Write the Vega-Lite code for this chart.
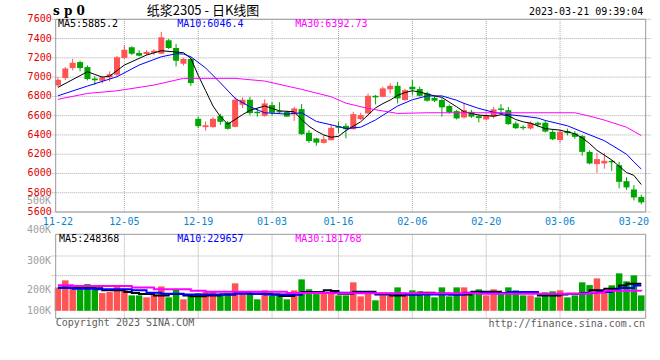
{
  "$schema": "https://vega.github.io/schema/vega-lite/v6.json",
  "autosize": {"type": "none"},
  "width": 600,
  "height": 299,
  "padding": {"left": 50.7, "top": 19.3, "right": 9.3, "bottom": 41.7},
  "background": "white",
  "config": {
    "view": {"stroke": null},
    "font": "DejaVu Sans Mono",
    "text": {"font": "DejaVu Sans Mono", "fontSize": 10}
  },
  "datasets": {
    "k": [
      {"i":0,"d":"11-22","o":6914,"c":6972,"h":7000,"l":6900,"v":212000},
      {"i":1,"d":"11-23","o":6990,"c":7090,"h":7105,"l":6970,"v":278000},
      {"i":2,"d":"11-24","o":7094,"c":7149,"h":7190,"l":7070,"v":223000},
      {"i":3,"d":"11-25","o":7156,"c":7094,"h":7170,"l":7060,"v":196000},
      {"i":4,"d":"11-28","o":7104,"c":6980,"h":7122,"l":6966,"v":244000},
      {"i":5,"d":"11-29","o":6985,"c":6968,"h":7010,"l":6920,"v":196000},
      {"i":6,"d":"11-30","o":6962,"c":6997,"h":7015,"l":6935,"v":162000},
      {"i":7,"d":"12-01","o":6997,"c":7030,"h":7060,"l":6955,"v":171000},
      {"i":8,"d":"12-02","o":7024,"c":7205,"h":7220,"l":7010,"v":233000},
      {"i":9,"d":"12-05","o":7198,"c":7284,"h":7330,"l":7190,"v":202000},
      {"i":10,"d":"12-06","o":7310,"c":7243,"h":7320,"l":7230,"v":141000},
      {"i":11,"d":"12-07","o":7250,"c":7222,"h":7280,"l":7215,"v":141000},
      {"i":12,"d":"12-08","o":7240,"c":7262,"h":7280,"l":7225,"v":123000},
      {"i":13,"d":"12-09","o":7253,"c":7274,"h":7290,"l":7230,"v":148000},
      {"i":14,"d":"12-12","o":7243,"c":7413,"h":7470,"l":7240,"v":223000},
      {"i":15,"d":"12-13","o":7382,"c":7302,"h":7395,"l":7290,"v":123000},
      {"i":16,"d":"12-14","o":7302,"c":7170,"h":7345,"l":7110,"v":190000},
      {"i":17,"d":"12-15","o":7139,"c":7188,"h":7200,"l":7120,"v":105000},
      {"i":18,"d":"12-16","o":7188,"c":6938,"h":7205,"l":6910,"v":153000},
      {"i":19,"d":"12-19","o":6567,"c":6491,"h":6590,"l":6470,"v":160000},
      {"i":20,"d":"12-20","o":6481,"c":6500,"h":6540,"l":6445,"v":171000},
      {"i":21,"d":"12-21","o":6481,"c":6567,"h":6585,"l":6475,"v":178000},
      {"i":22,"d":"12-22","o":6595,"c":6536,"h":6620,"l":6505,"v":150000},
      {"i":23,"d":"12-23","o":6530,"c":6463,"h":6545,"l":6455,"v":160000},
      {"i":24,"d":"12-26","o":6484,"c":6765,"h":6795,"l":6480,"v":251000},
      {"i":25,"d":"12-27","o":6713,"c":6765,"h":6790,"l":6680,"v":162000},
      {"i":26,"d":"12-28","o":6765,"c":6626,"h":6795,"l":6605,"v":178000},
      {"i":27,"d":"12-29","o":6640,"c":6625,"h":6675,"l":6590,"v":105000},
      {"i":28,"d":"12-30","o":6598,"c":6727,"h":6770,"l":6590,"v":187000},
      {"i":29,"d":"01-03","o":6710,"c":6630,"h":6740,"l":6600,"v":141000},
      {"i":30,"d":"01-04","o":6647,"c":6634,"h":6740,"l":6620,"v":150000},
      {"i":31,"d":"01-05","o":6640,"c":6590,"h":6650,"l":6585,"v":105000},
      {"i":32,"d":"01-06","o":6613,"c":6675,"h":6692,"l":6546,"v":187000},
      {"i":33,"d":"01-09","o":6668,"c":6408,"h":6720,"l":6400,"v":287000},
      {"i":34,"d":"01-10","o":6422,"c":6336,"h":6450,"l":6318,"v":196000},
      {"i":35,"d":"01-11","o":6363,"c":6320,"h":6370,"l":6287,"v":153000},
      {"i":36,"d":"01-12","o":6318,"c":6356,"h":6400,"l":6310,"v":160000},
      {"i":37,"d":"01-13","o":6346,"c":6474,"h":6505,"l":6340,"v":162000},
      {"i":38,"d":"01-16","o":6491,"c":6474,"h":6536,"l":6420,"v":141000},
      {"i":39,"d":"01-17","o":6494,"c":6460,"h":6520,"l":6365,"v":141000},
      {"i":40,"d":"01-18","o":6460,"c":6616,"h":6640,"l":6455,"v":260000},
      {"i":41,"d":"01-19","o":6564,"c":6606,"h":6630,"l":6555,"v":132000},
      {"i":42,"d":"01-20","o":6623,"c":6806,"h":6830,"l":6615,"v":162000},
      {"i":43,"d":"01-30","o":6806,"c":6790,"h":6815,"l":6717,"v":96000},
      {"i":44,"d":"01-31","o":6796,"c":6883,"h":6900,"l":6790,"v":141000},
      {"i":45,"d":"02-01","o":6873,"c":6910,"h":6935,"l":6830,"v":141000},
      {"i":46,"d":"02-02","o":6910,"c":6779,"h":6950,"l":6727,"v":214000},
      {"i":47,"d":"02-03","o":6762,"c":6865,"h":6880,"l":6755,"v":141000},
      {"i":48,"d":"02-06","o":6900,"c":6873,"h":6970,"l":6815,"v":187000},
      {"i":49,"d":"02-07","o":6876,"c":6806,"h":6900,"l":6800,"v":178000},
      {"i":50,"d":"02-08","o":6831,"c":6755,"h":6850,"l":6745,"v":157000},
      {"i":51,"d":"02-09","o":6785,"c":6755,"h":6810,"l":6740,"v":123000},
      {"i":52,"d":"02-10","o":6762,"c":6686,"h":6780,"l":6590,"v":214000},
      {"i":53,"d":"02-13","o":6700,"c":6635,"h":6715,"l":6620,"v":132000},
      {"i":54,"d":"02-14","o":6647,"c":6571,"h":6660,"l":6560,"v":214000},
      {"i":55,"d":"02-15","o":6581,"c":6657,"h":6733,"l":6571,"v":214000},
      {"i":56,"d":"02-16","o":6640,"c":6590,"h":6660,"l":6575,"v":162000},
      {"i":57,"d":"02-17","o":6595,"c":6575,"h":6615,"l":6530,"v":196000},
      {"i":58,"d":"02-20","o":6561,"c":6606,"h":6620,"l":6550,"v":141000},
      {"i":59,"d":"02-21","o":6588,"c":6665,"h":6692,"l":6571,"v":196000},
      {"i":60,"d":"02-22","o":6675,"c":6660,"h":6720,"l":6623,"v":162000},
      {"i":61,"d":"02-23","o":6657,"c":6512,"h":6690,"l":6505,"v":214000},
      {"i":62,"d":"02-24","o":6519,"c":6470,"h":6540,"l":6460,"v":187000},
      {"i":63,"d":"02-27","o":6484,"c":6470,"h":6500,"l":6450,"v":141000},
      {"i":64,"d":"02-28","o":6467,"c":6526,"h":6540,"l":6455,"v":141000},
      {"i":65,"d":"03-01","o":6526,"c":6505,"h":6540,"l":6480,"v":123000},
      {"i":66,"d":"03-02","o":6526,"c":6435,"h":6545,"l":6425,"v":169000},
      {"i":67,"d":"03-03","o":6432,"c":6355,"h":6450,"l":6345,"v":178000},
      {"i":68,"d":"03-06","o":6346,"c":6432,"h":6450,"l":6320,"v":187000},
      {"i":69,"d":"03-07","o":6440,"c":6418,"h":6465,"l":6395,"v":123000},
      {"i":70,"d":"03-08","o":6415,"c":6380,"h":6440,"l":6360,"v":141000},
      {"i":71,"d":"03-09","o":6387,"c":6224,"h":6400,"l":6185,"v":260000},
      {"i":72,"d":"03-10","o":6224,"c":6104,"h":6240,"l":6095,"v":235000},
      {"i":73,"d":"03-13","o":6097,"c":6149,"h":6214,"l":6006,"v":296000},
      {"i":74,"d":"03-14","o":6104,"c":6131,"h":6214,"l":6050,"v":178000},
      {"i":75,"d":"03-15","o":6131,"c":6115,"h":6140,"l":6027,"v":233000},
      {"i":76,"d":"03-16","o":6086,"c":5913,"h":6120,"l":5845,"v":342000},
      {"i":77,"d":"03-17","o":5920,"c":5855,"h":5960,"l":5830,"v":269000},
      {"i":78,"d":"03-20","o":5834,"c":5751,"h":5880,"l":5720,"v":324000},
      {"i":79,"d":"03-21","o":5757,"c":5700,"h":5780,"l":5680,"v":141000}
    ],
    "pticks": [
      {"p":5600},{"p":5800},{"p":6000},{"p":6200},{"p":6400},{"p":6600},{"p":6800},{"p":7000},{"p":7200},{"p":7400},{"p":7600}
    ],
    "ma": [
      {"s":"MA5","i":0,"p":6893},{"s":"MA5","i":4,"p":7056},{"s":"MA5","i":6,"p":7000},{"s":"MA5","i":7,"p":7010},{"s":"MA5","i":9,"p":7125},{"s":"MA5","i":12,"p":7229},{"s":"MA5","i":14,"p":7274},{"s":"MA5","i":17,"p":7253},{"s":"MA5","i":18,"p":7195},{"s":"MA5","i":19,"p":7018},{"s":"MA5","i":20,"p":6860},{"s":"MA5","i":21,"p":6700},{"s":"MA5","i":22,"p":6590},{"s":"MA5","i":23,"p":6512},{"s":"MA5","i":24,"p":6560},{"s":"MA5","i":25,"p":6610},{"s":"MA5","i":26,"p":6655},{"s":"MA5","i":28,"p":6700},{"s":"MA5","i":29,"p":6675},{"s":"MA5","i":30,"p":6650},{"s":"MA5","i":32,"p":6640},{"s":"MA5","i":33,"p":6560},{"s":"MA5","i":34,"p":6490},{"s":"MA5","i":35,"p":6440},{"s":"MA5","i":36,"p":6400},{"s":"MA5","i":37,"p":6376},{"s":"MA5","i":38,"p":6385},{"s":"MA5","i":39,"p":6445},{"s":"MA5","i":40,"p":6490},{"s":"MA5","i":41,"p":6536},{"s":"MA5","i":42,"p":6606},{"s":"MA5","i":43,"p":6680},{"s":"MA5","i":44,"p":6725},{"s":"MA5","i":45,"p":6762},{"s":"MA5","i":46,"p":6810},{"s":"MA5","i":47,"p":6840},{"s":"MA5","i":48,"p":6858},{"s":"MA5","i":49,"p":6845},{"s":"MA5","i":51,"p":6805},{"s":"MA5","i":52,"p":6790},{"s":"MA5","i":53,"p":6740},{"s":"MA5","i":54,"p":6692},{"s":"MA5","i":55,"p":6640},{"s":"MA5","i":57,"p":6606},{"s":"MA5","i":59,"p":6595},{"s":"MA5","i":60,"p":6610},{"s":"MA5","i":61,"p":6600},{"s":"MA5","i":62,"p":6560},{"s":"MA5","i":63,"p":6536},{"s":"MA5","i":64,"p":6522},{"s":"MA5","i":66,"p":6465},{"s":"MA5","i":68,"p":6450},{"s":"MA5","i":70,"p":6412},{"s":"MA5","i":71,"p":6370},{"s":"MA5","i":72,"p":6310},{"s":"MA5","i":73,"p":6240},{"s":"MA5","i":74,"p":6190},{"s":"MA5","i":75,"p":6140},{"s":"MA5","i":76,"p":6075},{"s":"MA5","i":77,"p":6010},{"s":"MA5","i":78,"p":5980},{"s":"MA5","i":79,"p":5885},
      {"s":"MA10","i":0,"p":6806},{"s":"MA10","i":4,"p":6907},{"s":"MA10","i":8,"p":7004},{"s":"MA10","i":11,"p":7125},{"s":"MA10","i":14,"p":7211},{"s":"MA10","i":16,"p":7242},{"s":"MA10","i":17,"p":7240},{"s":"MA10","i":18,"p":7211},{"s":"MA10","i":20,"p":7095},{"s":"MA10","i":22,"p":6941},{"s":"MA10","i":24,"p":6779},{"s":"MA10","i":26,"p":6692},{"s":"MA10","i":28,"p":6630},{"s":"MA10","i":31,"p":6616},{"s":"MA10","i":33,"p":6630},{"s":"MA10","i":35,"p":6540},{"s":"MA10","i":37,"p":6505},{"s":"MA10","i":39,"p":6467},{"s":"MA10","i":41,"p":6480},{"s":"MA10","i":43,"p":6555},{"s":"MA10","i":46,"p":6700},{"s":"MA10","i":48,"p":6765},{"s":"MA10","i":50,"p":6805},{"s":"MA10","i":52,"p":6805},{"s":"MA10","i":54,"p":6760},{"s":"MA10","i":55,"p":6727},{"s":"MA10","i":57,"p":6675},{"s":"MA10","i":59,"p":6635},{"s":"MA10","i":61,"p":6610},{"s":"MA10","i":63,"p":6595},{"s":"MA10","i":65,"p":6575},{"s":"MA10","i":66,"p":6550},{"s":"MA10","i":69,"p":6495},{"s":"MA10","i":71,"p":6432},{"s":"MA10","i":74,"p":6340},{"s":"MA10","i":77,"p":6200},{"s":"MA10","i":78,"p":6120},{"s":"MA10","i":79,"p":6046},
      {"s":"MA30","i":0,"p":6769},{"s":"MA30","i":4,"p":6831},{"s":"MA30","i":8,"p":6858},{"s":"MA30","i":13,"p":6917},{"s":"MA30","i":17,"p":6987},{"s":"MA30","i":24,"p":6987},{"s":"MA30","i":28,"p":6959},{"s":"MA30","i":33,"p":6873},{"s":"MA30","i":37,"p":6796},{"s":"MA30","i":39,"p":6730},{"s":"MA30","i":42,"p":6675},{"s":"MA30","i":46,"p":6623},{"s":"MA30","i":50,"p":6630},{"s":"MA30","i":60,"p":6630},{"s":"MA30","i":70,"p":6630},{"s":"MA30","i":72,"p":6595},{"s":"MA30","i":74,"p":6554},{"s":"MA30","i":77,"p":6480},{"s":"MA30","i":79,"p":6393}
    ],
    "vma": [
      {"s":"MA5","i":0,"v":213000},{"s":"MA5","i":5,"v":205000},{"s":"MA5","i":6,"v":187000},{"s":"MA5","i":9,"v":171000},{"s":"MA5","i":10,"v":162000},{"s":"MA5","i":11,"v":153000},{"s":"MA5","i":13,"v":141000},{"s":"MA5","i":15,"v":153000},{"s":"MA5","i":17,"v":141000},{"s":"MA5","i":18,"v":132000},{"s":"MA5","i":20,"v":141000},{"s":"MA5","i":22,"v":150000},{"s":"MA5","i":24,"v":162000},{"s":"MA5","i":26,"v":157000},{"s":"MA5","i":29,"v":150000},{"s":"MA5","i":30,"v":136000},{"s":"MA5","i":32,"v":150000},{"s":"MA5","i":33,"v":171000},{"s":"MA5","i":36,"v":187000},{"s":"MA5","i":37,"v":181000},{"s":"MA5","i":38,"v":157000},{"s":"MA5","i":40,"v":175000},{"s":"MA5","i":43,"v":150000},{"s":"MA5","i":45,"v":139000},{"s":"MA5","i":47,"v":150000},{"s":"MA5","i":49,"v":166000},{"s":"MA5","i":51,"v":157000},{"s":"MA5","i":53,"v":150000},{"s":"MA5","i":56,"v":175000},{"s":"MA5","i":60,"v":162000},{"s":"MA5","i":61,"v":171000},{"s":"MA5","i":63,"v":162000},{"s":"MA5","i":65,"v":141000},{"s":"MA5","i":68,"v":150000},{"s":"MA5","i":69,"v":157000},{"s":"MA5","i":71,"v":162000},{"s":"MA5","i":72,"v":187000},{"s":"MA5","i":74,"v":202000},{"s":"MA5","i":76,"v":232000},{"s":"MA5","i":77,"v":248000},{"s":"MA5","i":79,"v":248000},
      {"s":"MA10","i":0,"v":208000},{"s":"MA10","i":2,"v":202000},{"s":"MA10","i":5,"v":196000},{"s":"MA10","i":10,"v":187000},{"s":"MA10","i":12,"v":166000},{"s":"MA10","i":14,"v":157000},{"s":"MA10","i":17,"v":148000},{"s":"MA10","i":24,"v":157000},{"s":"MA10","i":28,"v":150000},{"s":"MA10","i":33,"v":166000},{"s":"MA10","i":43,"v":157000},{"s":"MA10","i":47,"v":150000},{"s":"MA10","i":55,"v":166000},{"s":"MA10","i":58,"v":162000},{"s":"MA10","i":61,"v":171000},{"s":"MA10","i":65,"v":153000},{"s":"MA10","i":71,"v":162000},{"s":"MA10","i":73,"v":171000},{"s":"MA10","i":75,"v":187000},{"s":"MA10","i":76,"v":208000},{"s":"MA10","i":78,"v":230000},{"s":"MA10","i":79,"v":230000},
      {"s":"MA30","i":0,"v":233000},{"s":"MA30","i":2,"v":226000},{"s":"MA30","i":10,"v":212000},{"s":"MA30","i":13,"v":196000},{"s":"MA30","i":18,"v":184000},{"s":"MA30","i":20,"v":175000},{"s":"MA30","i":31,"v":162000},{"s":"MA30","i":37,"v":160000},{"s":"MA30","i":57,"v":157000},{"s":"MA30","i":72,"v":166000},{"s":"MA30","i":74,"v":184000},{"s":"MA30","i":79,"v":182000}
    ]
  },
  "layer": [
    {
      "layer": [
        {
          "data": {"name": "pticks"},
          "mark": {"type": "rule", "color": "#aaa", "strokeDash": [1, 1], "strokeWidth": 1},
          "encoding": {
            "y": {"field": "p", "type": "quantitative", "axis": null, "scale": {"domain": [5600, 7600], "range": [192.7, 0], "nice": false, "zero": false}}
          }
        },
        {
          "data": {"name": "k"},
          "transform": [{"filter": {"field": "d", "oneOf": ["12-05", "12-19", "01-03", "01-16", "02-06", "02-20", "03-06"]}}],
          "mark": {"type": "rule", "color": "#aaa", "strokeDash": [1, 1], "strokeWidth": 1},
          "encoding": {
            "x": {"field": "i", "type": "quantitative", "axis": null, "scale": {"domain": [-0.3, 79.6], "nice": false, "zero": false}},
            "y": {"datum": 5600, "axis": null},
            "y2": {"datum": 7600}
          }
        },
        {
          "data": {"name": "pticks"},
          "mark": {"type": "text", "align": "right", "baseline": "middle", "dx": -4, "color": "#e00000"},
          "encoding": {
            "x": {"datum": -0.3, "axis": null},
            "y": {"field": "p", "type": "quantitative", "axis": null},
            "text": {"field": "p", "type": "quantitative", "format": "d"}
          }
        },
        {
          "data": {"name": "k"},
          "mark": {"type": "rule", "strokeWidth": 1},
          "encoding": {
            "x": {"field": "i", "type": "quantitative", "axis": null},
            "y": {"field": "l", "type": "quantitative", "axis": null},
            "y2": {"field": "h"},
            "color": {"condition": {"test": "datum.c >= datum.o", "value": "#ff5454"}, "value": "#00a600"}
          }
        },
        {
          "data": {"name": "k"},
          "mark": {"type": "bar", "size": 6},
          "encoding": {
            "x": {"field": "i", "type": "quantitative", "axis": null},
            "y": {"field": "o", "type": "quantitative", "axis": null},
            "y2": {"field": "c"},
            "color": {"condition": {"test": "datum.c >= datum.o", "value": "#ff5454"}, "value": "#00a600"}
          }
        },
        {
          "data": {"name": "ma"},
          "mark": {"type": "line", "strokeWidth": 1},
          "encoding": {
            "x": {"field": "i", "type": "quantitative", "axis": null},
            "y": {"field": "p", "type": "quantitative", "axis": null},
            "color": {"field": "s", "type": "nominal", "scale": {"domain": ["MA5", "MA10", "MA30"], "range": ["#000000", "#0000ff", "#ff00ff"]}, "legend": null}
          }
        },
        {
          "data": {"values": [{}]},
          "mark": {"type": "rect", "filled": false, "color": "#999", "strokeWidth": 1},
          "encoding": {"x": {"datum": -0.3, "axis": null}, "x2": {"datum": 79.6}, "y": {"datum": 5600, "axis": null}, "y2": {"datum": 7600}}
        },
        {
          "data": {"name": "k"},
          "transform": [{"filter": {"field": "d", "oneOf": ["11-22", "12-05", "12-19", "01-03", "01-16", "02-06", "02-20", "03-06", "03-20"]}}],
          "mark": {"type": "text", "baseline": "top", "align": "center", "dy": 5, "color": "#0a84d0"},
          "encoding": {"x": {"field": "i", "type": "quantitative", "axis": null}, "y": {"datum": 5600, "axis": null}, "text": {"field": "d"}}
        },
        {"data": {"values": [{}]}, "mark": {"type": "text", "align": "left", "baseline": "middle", "color": "#000000", "text": "MA5:5885.2"}, "encoding": {"x": {"datum": 0, "axis": null}, "y": {"datum": 7554, "axis": null}}},
        {"data": {"values": [{}]}, "mark": {"type": "text", "align": "left", "baseline": "middle", "color": "#0000ff", "text": "MA10:6046.4"}, "encoding": {"x": {"datum": 16.16, "axis": null}, "y": {"datum": 7554, "axis": null}}},
        {"data": {"values": [{}]}, "mark": {"type": "text", "align": "left", "baseline": "middle", "color": "#ff00ff", "text": "MA30:6392.73"}, "encoding": {"x": {"datum": 32.14, "axis": null}, "y": {"datum": 7554, "axis": null}}},
        {"data": {"values": [{}]}, "mark": {"type": "text", "align": "left", "baseline": "middle", "color": "#000000", "font": "DejaVu Serif", "fontWeight": "bold", "fontSize": 12, "text": "s p 0"}, "encoding": {"x": {"datum": -0.66, "axis": null}, "y": {"datum": 7686, "axis": null}}},
        {"data": {"values": [{}]}, "mark": {"type": "text", "align": "center", "baseline": "middle", "color": "#000000", "font": "Noto Sans CJK SC", "fontSize": 13, "text": "纸浆2305 - 日K线图"}, "encoding": {"x": {"datum": 19.65, "axis": null}, "y": {"datum": 7686, "axis": null}}},
        {"data": {"values": [{}]}, "mark": {"type": "text", "align": "right", "baseline": "middle", "color": "#000000", "fontSize": 10, "text": "2023-03-21 09:39:04"}, "encoding": {"x": {"datum": 79.28, "axis": null}, "y": {"datum": 7679, "axis": null}}},
        {"data": {"values": [{}]}, "mark": {"type": "text", "align": "right", "baseline": "middle", "color": "#a0a0a0", "text": "500K"}, "encoding": {"x": {"datum": -0.93, "axis": null}, "y": {"datum": 5715, "axis": null}}}
      ]
    },
    {
      "layer": [
        {
          "data": {"name": "k"},
          "transform": [{"filter": {"field": "d", "oneOf": ["12-05", "12-19", "01-03", "01-16", "02-06", "02-20", "03-06"]}}],
          "mark": {"type": "rule", "color": "#aaa", "strokeDash": [1, 1], "strokeWidth": 1},
          "encoding": {
            "x": {"field": "i", "type": "quantitative", "axis": null},
            "y": {"datum": -68000, "axis": null, "scale": {"domain": [-68000, 698000], "range": [299, 215], "nice": false, "zero": false}},
            "y2": {"datum": 698000}
          }
        },
        {"data": {"values": [{}]}, "mark": {"type": "rule", "color": "#aaa", "strokeDash": [1, 1], "strokeWidth": 1}, "encoding": {"y": {"datum": 321000, "axis": null}}},
        {"data": {"values": [{}]}, "mark": {"type": "rule", "color": "#aaa", "strokeDash": [1, 1], "strokeWidth": 1}, "encoding": {"y": {"datum": 500000, "axis": null}}},
        {
          "data": {"name": "k"},
          "mark": {"type": "bar", "size": 6.5},
          "encoding": {
            "x": {"field": "i", "type": "quantitative", "axis": null},
            "y": {"field": "v", "type": "quantitative", "axis": null},
            "y2": {"datum": 0},
            "color": {"condition": {"test": "datum.c >= datum.o", "value": "#ff5454"}, "value": "#00a600"}
          }
        },
        {
          "data": {"name": "vma"},
          "mark": {"type": "line", "strokeWidth": 2, "interpolate": "step-after"},
          "encoding": {
            "x": {"field": "i", "type": "quantitative", "axis": null},
            "y": {"field": "v", "type": "quantitative", "axis": null},
            "color": {"field": "s", "type": "nominal", "legend": null}
          }
        },
        {
          "data": {"values": [{}]},
          "mark": {"type": "rect", "filled": false, "color": "#999", "strokeWidth": 1},
          "encoding": {"x": {"datum": -0.3, "axis": null}, "x2": {"datum": 79.6}, "y": {"datum": -68000, "axis": null}, "y2": {"datum": 698000}}
        },
        {"data": {"values": [{}]}, "mark": {"type": "text", "align": "left", "baseline": "middle", "color": "#000000", "text": "MA5:248368"}, "encoding": {"x": {"datum": 0.16, "axis": null}, "y": {"datum": 658000, "axis": null}}},
        {"data": {"values": [{}]}, "mark": {"type": "text", "align": "left", "baseline": "middle", "color": "#0000ff", "text": "MA10:229657"}, "encoding": {"x": {"datum": 16.16, "axis": null}, "y": {"datum": 658000, "axis": null}}},
        {"data": {"values": [{}]}, "mark": {"type": "text", "align": "left", "baseline": "middle", "color": "#ff00ff", "text": "MA30:181768"}, "encoding": {"x": {"datum": 32.14, "axis": null}, "y": {"datum": 658000, "axis": null}}},
        {"data": {"values": [{}]}, "mark": {"type": "text", "align": "right", "baseline": "middle", "color": "#a0a0a0", "text": "400K"}, "encoding": {"x": {"datum": -0.93, "axis": null}, "y": {"datum": 734000, "axis": null}}},
        {"data": {"values": [{}]}, "mark": {"type": "text", "align": "right", "baseline": "middle", "color": "#a0a0a0", "text": "300K"}, "encoding": {"x": {"datum": -0.93, "axis": null}, "y": {"datum": 454000, "axis": null}}},
        {"data": {"values": [{}]}, "mark": {"type": "text", "align": "right", "baseline": "middle", "color": "#a0a0a0", "text": "200K"}, "encoding": {"x": {"datum": -0.93, "axis": null}, "y": {"datum": 187000, "axis": null}}},
        {"data": {"values": [{}]}, "mark": {"type": "text", "align": "right", "baseline": "middle", "color": "#a0a0a0", "text": "100K"}, "encoding": {"x": {"datum": -0.93, "axis": null}, "y": {"datum": -2000, "axis": null}}},
        {"data": {"values": [{}]}, "mark": {"type": "text", "align": "left", "baseline": "middle", "color": "#606060", "text": "Copyright 2023 SINA.COM"}, "encoding": {"x": {"datum": -0.3, "axis": null}, "y": {"datum": -114000, "axis": null}}},
        {"data": {"values": [{}]}, "mark": {"type": "text", "align": "right", "baseline": "middle", "color": "#606060", "text": "http://finance.sina.com.cn"}, "encoding": {"x": {"datum": 79.5, "axis": null}, "y": {"datum": -118000, "axis": null}}}
      ]
    }
  ],
  "resolve": {"scale": {"y": "independent"}, "axis": {"y": "independent"}}
}
